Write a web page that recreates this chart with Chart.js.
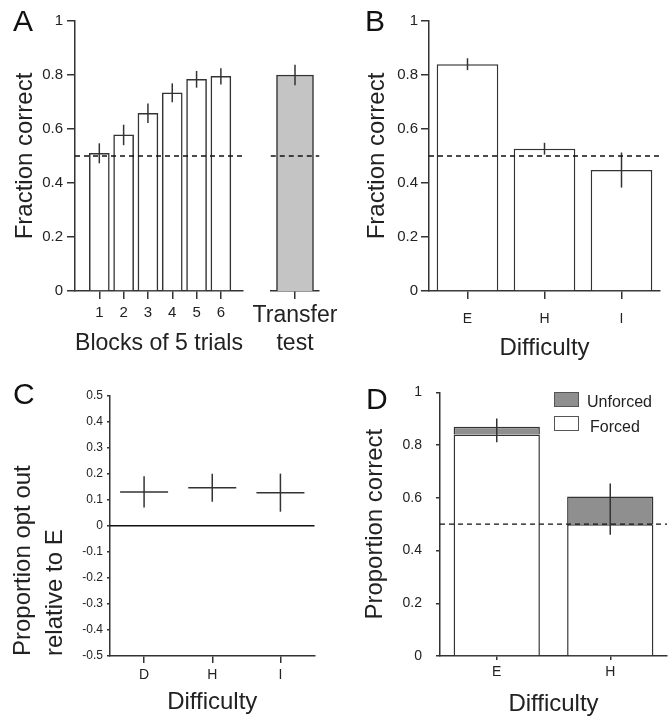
<!DOCTYPE html>
<html>
<head>
<meta charset="utf-8">
<title>Fraction correct panels</title>
<script src="https://cdn.jsdelivr.net/npm/chart.js@4.4.1/dist/chart.umd.min.js"></script>
<style>
  body { margin: 0; background: #fff; font-family: "Liberation Sans", Arial, sans-serif; }
  #page { position: relative; width: 671px; height: 719px; overflow: hidden; }
  .pane { position: absolute; }
  .letter { position: absolute; font-size: 30px; line-height: 1; color: #111; }
  .key-box { position: absolute; width: 23px; height: 13px; border: 1.5px solid #555; }
  .key-text { position: absolute; font-size: 16px; line-height: 1; color: #222; }
</style>
</head>
<body>
<div id="page">
  <div class="pane" style="left:0;top:0;width:250px;height:370px"><canvas id="chartA1"></canvas></div>
  <div class="pane" style="left:250px;top:0;width:90px;height:370px"><canvas id="chartA2"></canvas></div>
  <div class="pane" style="left:340px;top:0;width:331px;height:370px"><canvas id="chartB"></canvas></div>
  <div class="pane" style="left:0;top:370px;width:340px;height:349px"><canvas id="chartC"></canvas></div>
  <div class="pane" style="left:340px;top:370px;width:331px;height:349px"><canvas id="chartD"></canvas></div>

  <div class="letter" style="left:13px;top:6px">A</div>
  <div class="letter" style="left:365px;top:6px">B</div>
  <div class="letter" style="left:13px;top:379px">C</div>
  <div class="letter" style="left:366px;top:384px">D</div>

  <div class="key-box" style="left:554px;top:392px;background:#8f8f8f"></div>
  <div class="key-text" style="left:587px;top:394px">Unforced</div>
  <div class="key-box" style="left:554px;top:416px;background:#fff"></div>
  <div class="key-text" style="left:590px;top:419px">Forced</div>
</div>
<script>
// ---- data ----
const blockPositions = [1, 2, 3, 4, 5, 6];
const blockLabels = ['1', '2', '3', '4', '5', '6'];
const blockValues = [0.51, 0.578, 0.658, 0.734, 0.784, 0.795];
const blockErrors = [0.037, 0.038, 0.036, 0.035, 0.031, 0.030];

const transferLabel = ['Transfer', 'test'];
const transferValues = [0.80];
const transferErrors = [0.038];

const difficultyB = ['E', 'H', 'I'];
const fractionB = [0.84, 0.527, 0.448];
const errorsB = [0.022, 0.022, 0.065];

const difficultyC = ['D', 'H', 'I'];
const optOutValues = [0.13, 0.146, 0.127];
const optOutErrors = [0.06, 0.054, 0.073];

const difficultyD = ['E', 'H'];
const forcedValues = [0.84, 0.50];
const unforcedValues = [0.03, 0.105];
const propCenters = [0.856, 0.557];
const propErrors = [0.045, 0.097];

const chanceLevel = 0.5;

// ---- shared styling ----
const INK = '#333';
const TEXT = '#222';
const FONT = '"Liberation Sans", Arial, sans-serif';

// vertical error bars, drawn through the chart's own y scale
const errorBars = {
  id: 'errorBars',
  afterDatasetsDraw(chart, args, opts) {
    if (!opts.centers) return;
    const ctx = chart.ctx;
    const y = chart.scales.y;
    const meta = chart.getDatasetMeta(opts.dataset || 0);
    ctx.save();
    ctx.strokeStyle = INK;
    ctx.lineWidth = 1.5;
    opts.centers.forEach((c, i) => {
      const x = meta.data[i].x;
      ctx.beginPath();
      ctx.moveTo(x, y.getPixelForValue(c - opts.errors[i]));
      ctx.lineTo(x, y.getPixelForValue(c + opts.errors[i]));
      ctx.stroke();
    });
    ctx.restore();
  }
};

// horizontal reference line (chance level / zero)
const refLine = {
  id: 'refLine',
  afterDatasetsDraw(chart, args, opts) {
    if (opts.value === undefined) return;
    const {ctx, chartArea} = chart;
    const py = chart.scales.y.getPixelForValue(opts.value);
    ctx.save();
    ctx.strokeStyle = opts.color || '#111';
    ctx.lineWidth = opts.width || 1.3;
    ctx.setLineDash(opts.dash || [5, 4]);
    ctx.beginPath();
    ctx.moveTo(chartArea.left, py);
    ctx.lineTo(chartArea.right + (opts.extend || 0), py);
    ctx.stroke();
    ctx.restore();
  }
};

Chart.register(errorBars, refLine);
Chart.defaults.font.family = FONT;
Chart.defaults.color = TEXT;
Chart.defaults.animation = false;
Chart.defaults.plugins.legend.display = false;
Chart.defaults.plugins.tooltip.enabled = false;

const fmt = v => String(+Number(v).toFixed(1));

function yAxis(cfg) {
  return {
    display: cfg.display !== false,
    min: cfg.min, max: cfg.max,
    afterFit: s => { s.width = cfg.width; },
    border: { display: true, color: INK, width: 1.5 },
    grid: { drawOnChartArea: false, drawTicks: true, tickLength: cfg.tick, color: INK, lineWidth: 1.5 },
    ticks: { stepSize: cfg.step, padding: cfg.pad, font: { size: cfg.size }, callback: fmt },
    title: cfg.title ? {
      display: true, text: cfg.title, align: cfg.align || 'center',
      font: { size: 24, lineHeight: cfg.lh || 1.2 }, padding: { top: cfg.tpad, bottom: 0 }
    } : { display: false }
  };
}

function xCategory(cfg) {
  return {
    type: 'category',
    offset: true,
    stacked: !!cfg.stacked,
    afterFit: s => { s.height = cfg.height; },
    border: { display: true, color: INK, width: 1.5 },
    grid: { offset: false, drawOnChartArea: false, drawTicks: true, tickLength: cfg.tick, color: INK, lineWidth: 1.5 },
    ticks: { padding: cfg.pad, font: { size: cfg.size, lineHeight: cfg.lh || 1.2 }, maxRotation: 0, autoSkip: false },
    title: cfg.title ? {
      display: true, text: cfg.title, font: { size: 24 }, padding: { top: 0, bottom: cfg.tpad }
    } : { display: false }
  };
}

// ---- A: learning blocks ----
new Chart(document.getElementById('chartA1'), {
  type: 'bar',
  data: {
    datasets: [{
      data: blockPositions.map((p, i) => ({ x: p, y: blockValues[i] })),
      backgroundColor: '#fff', borderColor: INK, borderWidth: 1.5,
      barThickness: 20
    }]
  },
  options: {
    responsive: true, maintainAspectRatio: false,
    layout: { padding: { top: 21, right: 7, left: 0, bottom: 0 } },
    scales: {
      x: {
        type: 'linear', min: 0, max: 6.91, offset: false,
        afterFit: s => { s.height = 79; },
        afterBuildTicks: s => { s.ticks = blockPositions.map(v => ({ value: v })); },
        border: { display: true, color: INK, width: 1.5 },
        grid: { offset: false, drawOnChartArea: false, drawTicks: true, tickLength: 8, color: INK, lineWidth: 1.5 },
        ticks: { padding: 5, font: { size: 15 }, maxRotation: 0, autoSkip: false,
                 callback: (v, i) => blockLabels[i] },
        title: { display: true, text: 'Blocks of 5 trials', font: { size: 24 }, padding: { top: 0, bottom: 12 } }
      },
      y: yAxis({ min: 0, max: 1, width: 75, tick: 8, step: 0.2, pad: 4, size: 15, title: 'Fraction correct', tpad: 11 })
    },
    plugins: {
      errorBars: { centers: blockValues, errors: blockErrors },
      refLine: { value: chanceLevel, extend: 2 }
    }
  }
});

// ---- A: transfer test ----
new Chart(document.getElementById('chartA2'), {
  type: 'bar',
  data: {
    labels: [transferLabel],
    datasets: [{
      data: transferValues,
      backgroundColor: '#c4c4c4', borderColor: INK, borderWidth: 1.5,
      barThickness: 37
    }]
  },
  options: {
    responsive: true, maintainAspectRatio: false,
    layout: { padding: { top: 21, right: 10, left: 12, bottom: 0 } },
    scales: {
      x: xCategory({ height: 79, tick: 8, pad: 2, size: 23, lh: 1.25 }),
      y: { display: false, min: 0, max: 1 }
    },
    plugins: {
      errorBars: { centers: transferValues, errors: transferErrors },
      refLine: { value: chanceLevel }
    }
  }
});

// ---- B: fraction correct by difficulty ----
new Chart(document.getElementById('chartB'), {
  type: 'bar',
  data: {
    labels: difficultyB,
    datasets: [{
      data: fractionB,
      backgroundColor: '#fff', borderColor: INK, borderWidth: 1.5,
      barPercentage: 0.8, categoryPercentage: 1
    }]
  },
  options: {
    responsive: true, maintainAspectRatio: false,
    layout: { padding: { top: 21, right: 11, left: 0, bottom: 0 } },
    scales: {
      x: xCategory({ height: 79, tick: 8, pad: 12, size: 14, title: 'Difficulty', tpad: 7 }),
      y: yAxis({ min: 0, max: 1, width: 89, tick: 8, step: 0.2, pad: 3, size: 15, title: 'Fraction correct', tpad: 23 })
    },
    plugins: {
      errorBars: { centers: fractionB, errors: errorsB },
      refLine: { value: chanceLevel }
    }
  }
});

// ---- C: opt-out relative to E ----
new Chart(document.getElementById('chartC'), {
  type: 'line',
  data: {
    labels: difficultyC,
    datasets: [{
      data: optOutValues,
      showLine: false,
      pointStyle: 'line', pointRadius: 24, pointHoverRadius: 24,
      borderColor: INK, borderWidth: 1.5
    }]
  },
  options: {
    responsive: true, maintainAspectRatio: false,
    layout: { padding: { top: 23, right: 11, left: 0, bottom: 0 } },
    scales: {
      x: xCategory({ height: 63, tick: 7, pad: 4, size: 14, title: 'Difficulty', tpad: 2 }),
      y: yAxis({ min: -0.5, max: 0.5, width: 110, tick: 3, step: 0.1, pad: 4, size: 12,
                 title: ['Proportion opt out', 'relative to E'], align: 'start', lh: 1.333, tpad: 7 })
    },
    plugins: {
      errorBars: { centers: optOutValues, errors: optOutErrors },
      refLine: { value: 0, dash: [], color: '#111', width: 1.5 }
    }
  }
});

// ---- D: proportion correct, forced + unforced ----
new Chart(document.getElementById('chartD'), {
  type: 'bar',
  data: {
    labels: difficultyD,
    datasets: [
      { label: 'Forced', data: forcedValues, backgroundColor: '#fff', borderColor: INK, borderWidth: 1.5,
        barPercentage: 0.76, categoryPercentage: 1 },
      { label: 'Unforced', data: unforcedValues, backgroundColor: '#8f8f8f', borderColor: INK, borderWidth: 1.5,
        barPercentage: 0.76, categoryPercentage: 1 }
    ]
  },
  options: {
    responsive: true, maintainAspectRatio: false,
    layout: { padding: { top: 22, right: 4, left: 0, bottom: 0 } },
    scales: {
      x: xCategory({ height: 63, tick: 4, pad: 4, size: 14, stacked: true, title: 'Difficulty', tpad: 0 }),
      y: Object.assign(yAxis({ min: 0, max: 1, width: 100, tick: 4, step: 0.2, pad: 14, size: 14,
                               title: 'Proportion correct', tpad: 21 }), { stacked: true })
    },
    plugins: {
      errorBars: { centers: propCenters, errors: propErrors },
      refLine: { value: chanceLevel }
    }
  }
});
</script>
</body>
</html>
